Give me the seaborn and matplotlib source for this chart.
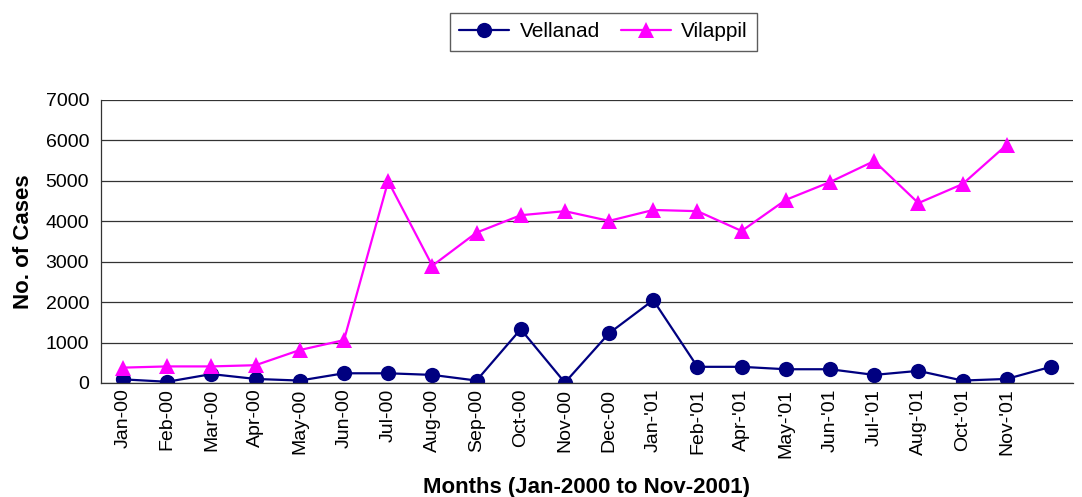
import matplotlib
matplotlib.use("Agg")
import matplotlib.pyplot as plt
import seaborn as sns
import numpy as np
import pandas as pd

months = ["Jan-00", "Feb-00", "Mar-00", "Apr-00", "May-00", "Jun-00", "Jul-00",
          "Aug-00", "Sep-00", "Oct-00", "Nov-00", "Dec-00", "Jan-'01", "Feb-'01",
          "Apr-'01", "May-'01", "Jun-'01", "Jul-'01", "Aug-'01", "Oct-'01", "Nov-'01", ""]

vellanad = [90, 30, 220, 100, 60, 240, 240, 200, 60, 1330, 10, 1230, 2050, 400,
            400, 340, 340, 200, 300, 60, 100, 400]
vilappil = [380, 410, 410, 440, 815, 1060, 4990, 2900, 3720, 4150, 4250, 4010, 4280,
            4250, 3760, 4530, 4970, 5490, 4450, 4920, 5890, np.nan]

df = pd.DataFrame({
    "idx": list(range(len(months))) * 2,
    "cases": vellanad + vilappil,
    "site": ["Vellanad"] * len(months) + ["Vilappil"] * len(months),
})

sns.set_style("white")
plt.rcParams["font.family"] = ["Liberation Sans", "DejaVu Sans"]
plt.rcParams["text.color"] = "black"
plt.rcParams["axes.labelcolor"] = "black"
plt.rcParams["xtick.color"] = "black"
plt.rcParams["ytick.color"] = "black"

fig = plt.figure(figsize=(10.82, 4.97), dpi=100)
ax = fig.add_axes([0.0933, 0.2294, 0.8984, 0.5694])

sns.lineplot(
    data=df, x="idx", y="cases", hue="site", style="site",
    palette={"Vellanad": "#000080", "Vilappil": "#FF00FF"},
    markers={"Vellanad": "o", "Vilappil": "^"},
    dashes=False, sort=False, linewidth=1.6, markersize=11,
    markeredgewidth=0, ax=ax,
)

ax.set_xlim(-0.5, len(months) - 0.5)
ax.set_ylim(0, 7000)
ax.set_yticks(range(0, 7001, 1000))
ax.yaxis.grid(True, color="#333333", linewidth=0.9)
ax.set_axisbelow(True)

ax.set_xticks(range(len(months)))
ax.set_xticklabels(months, rotation=90, fontsize=14)
ax.set_xticks(np.arange(-0.5, len(months)), minor=True)
ax.tick_params(axis="x", which="major", length=0, pad=4)
ax.tick_params(axis="x", which="minor", length=5, width=0.9, color="#333333", direction="out")
ax.tick_params(axis="y", length=5, width=0.9, color="#333333", direction="out", labelsize=14)

for s in ["top", "right"]:
    ax.spines[s].set_visible(False)
for s in ["left", "bottom"]:
    ax.spines[s].set_color("#333333")
    ax.spines[s].set_linewidth(0.9)

ax.set_xlabel("Months (Jan-2000 to Nov-2001)", fontsize=16, fontweight="bold", labelpad=14)
ax.set_ylabel("No. of Cases", fontsize=16, fontweight="bold", labelpad=8)

handles, labels = ax.get_legend_handles_labels()
ax.legend(handles, labels, loc="center", bbox_to_anchor=(0.558, 0.936),
          bbox_transform=fig.transFigure, ncol=2, frameon=True, fancybox=False,
          edgecolor="#333333", fontsize=15, handlelength=2.4, handletextpad=0.5,
          columnspacing=1.0, borderpad=0.45)

fig.savefig("out.png", dpi=100)
